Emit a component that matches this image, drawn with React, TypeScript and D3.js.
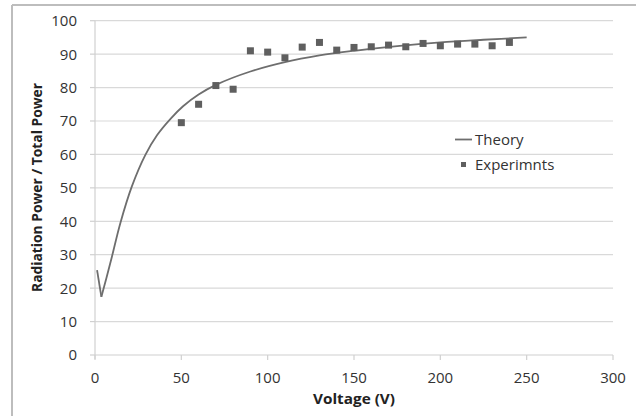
import React from "react";
import * as d3 from "d3";

const xTicks = [0, 50, 100, 150, 200, 250, 300];
const yTicks = [0, 10, 20, 30, 40, 50, 60, 70, 80, 90, 100];

const theoryV = [1.2, 3.7, 6.5, 9.8, 14.7, 21.4, 29.1, 36, 44, 51, 60, 70, 90, 110, 130, 150, 175, 200, 225, 250];
const theoryP = [25.4, 17.4, 22.8, 29.4, 39.5, 50.5, 59.8, 65.8, 70.8, 74.4, 77.9, 80.8, 84.8, 87.6, 89.6, 91.0, 92.4, 93.5, 94.3, 95.0];

const expV = [50, 60, 70, 80, 90, 100, 110, 120, 130, 140, 150, 160, 170, 180, 190, 200, 210, 220, 230, 240];
const expP = [69.5, 75.0, 80.6, 79.5, 91.0, 90.6, 88.9, 92.1, 93.5, 91.2, 92.0, 92.2, 92.7, 92.2, 93.2, 92.5, 93.0, 93.0, 92.5, 93.5];

const W = 636;
const H = 416;
const FONT = "'Open Sans', 'DejaVu Sans', sans-serif";

export default function App() {
  const x = d3.scaleLinear().domain([0, 300]).range([95, 613]);
  const y = d3.scaleLinear().domain([0, 100]).range([355, 20.7]);

  const theory = theoryV.map((v, i) => [v, theoryP[i]] as [number, number]);
  const dip = theory.slice(0, 2);
  const rise = theory.slice(1);
  const straight = d3
    .line<[number, number]>()
    .x((d) => x(d[0]))
    .y((d) => y(d[1]));
  const smooth = d3
    .line<[number, number]>()
    .x((d) => x(d[0]))
    .y((d) => y(d[1]))
    .curve(d3.curveCatmullRom.alpha(0.5));

  const ms = 7;

  return (
    <svg
      width={W}
      height={H}
      style={{ position: "absolute", left: 0, top: 0, background: "#fff" }}
    >
      <rect x={0} y={0} width={W} height={H} fill="#fff" />
      {/* outer border */}
      <line x1={12} y1={5} x2={W} y2={5} stroke="#bdbdbd" strokeWidth={2} />
      <line x1={12} y1={5} x2={12} y2={H} stroke="#bdbdbd" strokeWidth={2} />

      {/* gridlines */}
      {yTicks.map((t) => (
        <line
          key={"g" + t}
          x1={x(0)}
          x2={x(300)}
          y1={y(t)}
          y2={y(t)}
          stroke={t === 0 ? "#d0d0d0" : "#d9d9d9"}
          strokeWidth={1.2}
        />
      ))}
      {/* y axis line */}
      <line x1={x(0)} x2={x(0)} y1={y(100)} y2={y(0) + 4} stroke="#d0d0d0" strokeWidth={1.2} />
      {/* x ticks */}
      {xTicks.map((t) => (
        <line key={"xt" + t} x1={x(t)} x2={x(t)} y1={y(0)} y2={y(0) + 5} stroke="#d0d0d0" strokeWidth={1.2} />
      ))}
      {/* y tick marks */}
      {yTicks.map((t) => (
        <line key={"yt" + t} x1={x(0) - 5} x2={x(0)} y1={y(t)} y2={y(t)} stroke="#d0d0d0" strokeWidth={1.2} />
      ))}

      {/* tick labels */}
      {yTicks.map((t) => (
        <text
          key={"yl" + t}
          x={77}
          y={y(t)}
          dy="0.36em"
          textAnchor="end"
          fontFamily={FONT}
          fontSize={15}
          fill="#333"
        >
          {t}
        </text>
      ))}
      {xTicks.map((t) => (
        <text
          key={"xl" + t}
          x={x(t)}
          y={383}
          textAnchor="middle"
          fontFamily={FONT}
          fontSize={15}
          fill="#333"
        >
          {t}
        </text>
      ))}

      {/* axis titles */}
      <text
        x={354}
        y={404}
        textAnchor="middle"
        fontFamily={FONT}
        fontSize={14}
        fontWeight="bold"
        fill="#222"
        textLength={82}
        lengthAdjust="spacingAndGlyphs"
      >
        Voltage (V)
      </text>
      <text
        transform={`translate(42, 187.5) rotate(-90)`}
        textAnchor="middle"
        fontFamily={FONT}
        fontSize={14}
        fontWeight="bold"
        fill="#222"
        textLength={209}
        lengthAdjust="spacingAndGlyphs"
      >
        Radiation Power / Total Power
      </text>

      {/* theory curve */}
      <path d={straight(dip) || ""} fill="none" stroke="#6e6e6e" strokeWidth={1.8} strokeLinejoin="round" />
      <path d={smooth(rise) || ""} fill="none" stroke="#6e6e6e" strokeWidth={1.8} strokeLinejoin="round" />

      {/* experiment markers */}
      {expV.map((v, i) => (
        <rect
          key={"e" + i}
          x={x(v) - ms / 2}
          y={y(expP[i]) - ms / 2}
          width={ms}
          height={ms}
          fill="#5f5f5f"
        />
      ))}

      {/* legend */}
      <line x1={455} x2={472} y1={139.5} y2={139.5} stroke="#6e6e6e" strokeWidth={1.8} />
      <text x={475} y={139.5} dy="0.36em" fontFamily={FONT} fontSize={15} fill="#333">
        Theory
      </text>
      <rect x={461} y={162} width={5} height={5} fill="#5f5f5f" />
      <text x={475} y={164.5} dy="0.36em" fontFamily={FONT} fontSize={15} fill="#333">
        Experimnts
      </text>
    </svg>
  );
}
